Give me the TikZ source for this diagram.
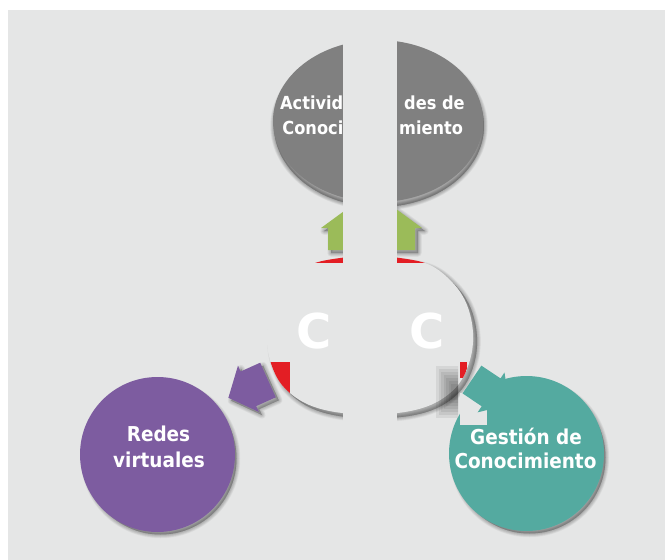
\documentclass[tikz,border=0pt]{standalone}
\usepackage{fontspec}
\newfontfamily\dvc{DejaVu Sans Condensed}
\newfontfamily\dvs{DejaVu Sans}
\usetikzlibrary{shapes.geometric}
\definecolor{bgc}{HTML}{E5E6E6}
\definecolor{grayc}{HTML}{808080}
\definecolor{greenc}{HTML}{9BBB59}
\definecolor{redc}{HTML}{E31E24}
\definecolor{purplec}{HTML}{7D5CA0}
\definecolor{tealc}{HTML}{54AAA0}
% soft drop shadow: #1 opacity per layer, #2 shift, #3 path style
\newcommand\myshade[3][0.035]{%
  \foreach \w in {0.5,1.5,2.5,3.5,4.5,5.5,6.5,7.5} {\path[fill=black, fill opacity=#1, draw=black, draw opacity=#1, line width=\w pt, line join=round, shift={#2}, #3];}}
\begin{document}
\begin{tikzpicture}[x=1pt,y=-1pt,
  disc/.style={circle, inner sep=0pt, outer sep=0pt, minimum size=155pt},
  ltxt/.style={text=white, inner sep=0pt, font=\dvc\bfseries\fontsize{20.5}{25}\selectfont},
  ttxt/.style={text=white, inner sep=0pt, font=\dvc\bfseries\fontsize{18}{22}\selectfont},
  bigc/.style={text=white, inner sep=0pt, font=\dvs\bfseries\fontsize{48}{48}\selectfont},
  cshape/.style={insert path={plot[smooth cycle, tension=0.6] coordinates {(370,256) (400,258) (430,265) (453,283) (467,305) (473,333) (470,360) (458,385) (435,403) (405,412) (370,414) (335,412) (305,403) (282,385) (270,360) (267,333) (273,305) (287,283) (310,265) (340,258)}}},
  topell/.style={insert path={(378,121) ellipse[x radius=105, y radius=81]}},
  garrow/.style={insert path={(328,250) -- (328,228) -- (321,228) -- (371.5,191) -- (422,228) -- (415,228) -- (415,250) -- cycle}},
  parrow/.style={insert path={(275.8,397.3) -- (256.2,406.1) -- (258.9,412.0) -- (228.4,397.8) -- (238.0,365.6) -- (240.6,371.5) -- (260.2,362.7) -- cycle}},
  tarrow/.style={insert path={(462.6,393.4) -- (481.7,406.3) -- (477.7,412.3) -- (509.4,404.7) -- (504.5,372.5) -- (500.5,378.4) -- (481.4,365.6) -- cycle}},
  rvdisc/.style={insert path={(157.5,454.5) circle[radius=76]}},
  gcdisc/.style={insert path={(526.5,453.5) circle[radius=76]}}]

\useasboundingbox (0,0) rectangle (665,560);
\fill[white] (0,0) rectangle (665,560);
\fill[bgc] (8,10) rectangle (665,560);

% top ellipse
\myshade[0.04]{(1,5)}{topell}
\node (act) [ellipse, fill=grayc, minimum width=210pt, minimum height=162pt, inner sep=0pt] at (378,121) {};
\node (t1a) [ttxt, anchor=base east] at (343.5,109) {Activid};
\node (t1b) [ttxt, anchor=base west] at (404,109) {des de};
\node (t2a) [ttxt, anchor=base east] at (343.5,134) {Conoci};
\node (t2b) [ttxt, anchor=base west] at (399,134) {miento};

% green arrow
\myshade[0.03]{(3,3)}{garrow}
\fill[greenc, garrow];

% center shape
\myshade{(4,4)}{cshape}
\path[fill=bgc, cshape];
\begin{scope}
  \clip[cshape];
  \fill[redc] (250,240) rectangle (490,263);
  \fill[redc] (260,362) rectangle (290,395);
  \fill[redc] (460,362) rectangle (467,378);
\end{scope}
\node (c1) [bigc, anchor=base] at (314.5,348) {C};
\node (c2) [bigc, anchor=base] at (427,348) {C};

% blurred gray block
\begin{scope}
  \clip (433,355) rectangle (458,428);
  \foreach \i in {0,...,6} {\fill[black, opacity=0.065] (436+2.5*\i,366+3*\i) rectangle (470,418-3*\i);}
\end{scope}

% purple
\myshade[0.03]{(3,3)}{parrow}
\fill[purplec, parrow];
\myshade{(3,4)}{rvdisc}
\node (rv) [disc, fill=purplec] at (157.5,454.5) {};
\node (rv1) [ltxt, anchor=base] at (158.5,441) {Redes};
\node (rv2) [ltxt, anchor=base] at (159,467) {virtuales};

% teal
\myshade{(3,4)}{gcdisc}
\node (gc) [disc, fill=tealc] at (526.5,453.5) {};
\fill[bgc] (460,393) rectangle (487,425);
\fill[tealc, tarrow];
\node (gc1) [ltxt, anchor=base] at (526,444) {Gestión de};
\node (gc2) [ltxt, anchor=base] at (525.5,468) {Conocimiento};

% vertical band
\fill[bgc] (343,30) rectangle (397,432);
\end{tikzpicture}
\end{document}
